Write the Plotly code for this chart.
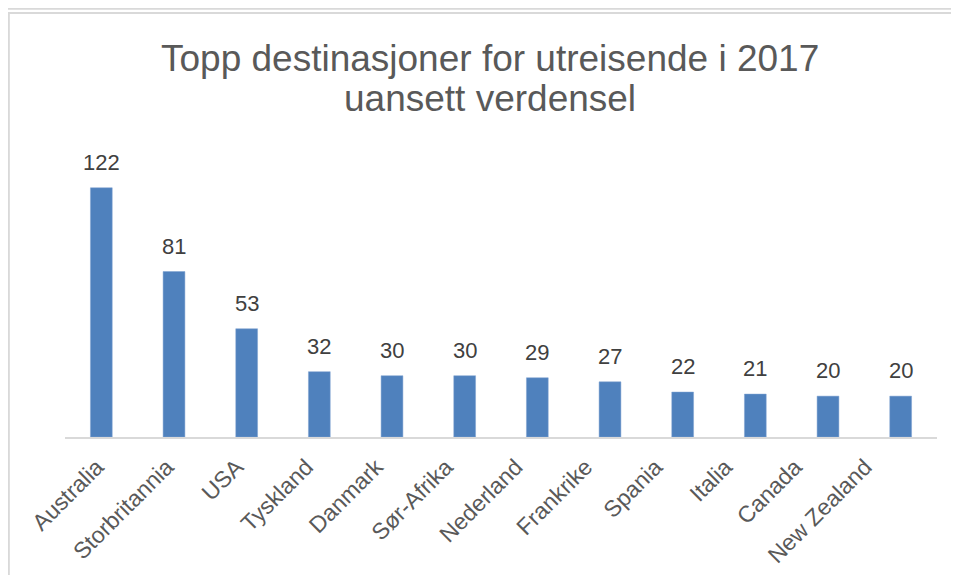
import plotly.graph_objects as go

countries = ['Australia', 'Storbritannia', 'USA', 'Tyskland', 'Danmark', 'Sør-Afrika',
             'Nederland', 'Frankrike', 'Spania', 'Italia', 'Canada', 'New Zealand']
travellers = [122, 81, 53, 32, 30, 30, 29, 27, 22, 21, 20, 20]

title_lines = ['Topp destinasjoner for utreisende i 2017', 'uansett verdensel']

# page body has an 8px margin, so the figure is a bit smaller than the window
W, H = 943, 567

fig = go.Figure()
fig.add_trace(go.Bar(
    x=countries,
    y=travellers,
    marker=dict(color='#4f81bd', line=dict(color='#7fa3d1', width=0.5)),
    hoverinfo='x+y',
))
# invisible carrier so the label axis gets drawn
label_pos = list(range(len(countries)))
fig.add_trace(go.Scatter(
    x=label_pos, y=[0] * len(countries), xaxis='x2', mode='markers',
    marker=dict(opacity=0), hoverinfo='skip', showlegend=False,
))

# value labels sit a bit higher above the bars than plotly's outside text
value_ann = [dict(text=str(v), x=c, y=v, xref='x', yref='y',
                  xanchor='center', yanchor='bottom', yshift=11, showarrow=False,
                  font=dict(size=22, color='#404040'))
             for c, v in zip(countries, travellers)]

# two-line title, tight line spacing like the original
title_ann = [
    dict(text=title_lines[0], xref='paper', yref='paper', x=0.4875, y=1.325,
         xanchor='center', yanchor='middle', showarrow=False,
         font=dict(size=37, color='#595959')),
    dict(text=title_lines[1], xref='paper', yref='paper', x=0.4875, y=1.183,
         xanchor='center', yanchor='middle', showarrow=False,
         font=dict(size=37, color='#595959')),
]

# frame around the chart (paper coords relative to plot area)
frame = dict(type='rect', xref='paper', yref='paper',
             x0=-0.0644, x1=1.1, y0=-0.6, y1=1.4825,
             line=dict(color='#d9d9d9', width=2), fillcolor='rgba(0,0,0,0)')
top_line = dict(type='line', xref='paper', yref='paper',
                x0=-0.1, x1=1.1, y0=1.4972, y1=1.4972,
                line=dict(color='#d9d9d9', width=2))

fig.update_layout(
    width=W, height=H,
    margin=dict(l=57, r=14, t=143, b=138, autoexpand=False),
    paper_bgcolor='white', plot_bgcolor='white',
    font=dict(family='Liberation Sans, Arial, sans-serif', color='#595959'),
    bargap=0.7,
    showlegend=False,
    shapes=[frame, top_line],
    annotations=value_ann + title_ann,
    xaxis=dict(showticklabels=False, automargin=False, ticks='',
               showline=True, linecolor='#d9d9d9', linewidth=2),
    # labels in the original are spaced slightly tighter than the bars
    xaxis2=dict(overlaying='x', anchor='y', side='bottom', range=[-0.458, 12.03],
                tickmode='array', tickvals=label_pos, ticktext=countries,
                tickangle=-45, tickfont=dict(size=23, color='#595959'),
                ticklabelstandoff=11, showgrid=False, zeroline=False, showline=False,
                ticks='', automargin=False),
    yaxis=dict(range=[0, 140], visible=False, showgrid=False, automargin=False),
)

fig.write_html('out.html', config={'displayModeBar': False})
